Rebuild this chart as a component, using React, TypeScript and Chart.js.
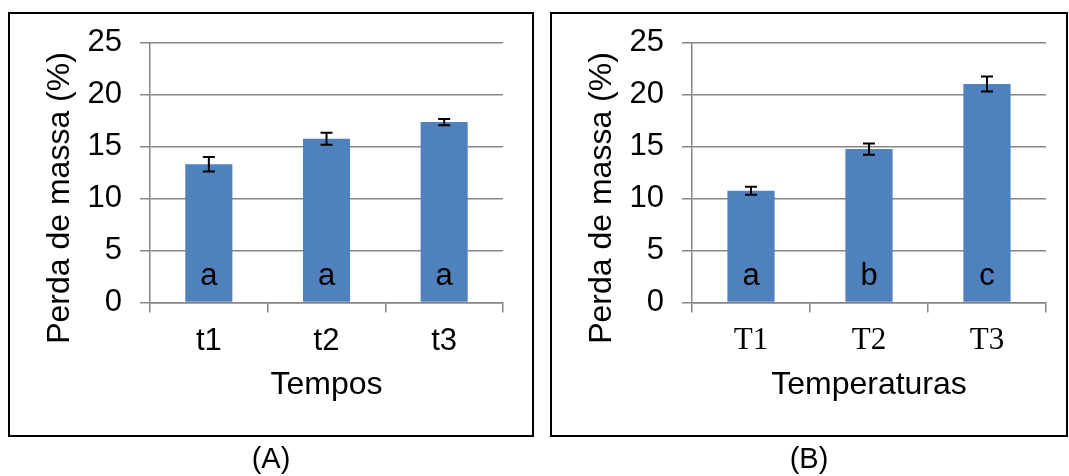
import React, { useEffect, useRef } from "react";
import { Chart, registerables } from "chart.js";

Chart.register(...registerables);

const SANS = '"Liberation Sans", Arial, Helvetica, sans-serif';
const SERIF = '"Liberation Serif", "Times New Roman", Times, serif';
const GRID = "#868686";
const BAR = "#4F81BD";

// Panel A — Tempos
const categoriesA = ["t1", "t2", "t3"];
const valuesA = [13.3, 15.75, 17.35];
const errorsA = [0.7, 0.58, 0.3];
const lettersA = ["a", "a", "a"];

// Panel B — Temperaturas
const categoriesB = ["T1", "T2", "T3"];
const valuesB = [10.75, 14.75, 21.0];
const errorsB = [0.38, 0.55, 0.72];
const lettersB = ["a", "b", "c"];

// Y axis ticks
const yMin = 0;
const yMax = 25;
const yStep = 5;

const yTitle = "Perda de massa (%)";

function makePlugin(values: number[], errors: number[], letters: string[], titleY: number) {
  return {
    id: "annot",
    afterDatasetsDraw(chart: any) {
      const ctx = chart.ctx;
      const y = chart.scales.y;
      const meta = chart.getDatasetMeta(0);
      meta.data.forEach((bar: any, i: number) => {
        const v = values[i];
        const e = errors[i];
        const top = y.getPixelForValue(v + e);
        const bot = y.getPixelForValue(v - e);
        ctx.save();
        ctx.strokeStyle = "#000";
        ctx.lineWidth = 2;
        ctx.beginPath();
        ctx.moveTo(bar.x, top);
        ctx.lineTo(bar.x, bot);
        ctx.moveTo(bar.x - 6, top);
        ctx.lineTo(bar.x + 6, top);
        ctx.moveTo(bar.x - 6, bot);
        ctx.lineTo(bar.x + 6, bot);
        ctx.stroke();
        ctx.fillStyle = "#000";
        ctx.font = `31px ${SANS}`;
        ctx.textAlign = "center";
        ctx.textBaseline = "alphabetic";
        ctx.fillText(letters[i], bar.x, y.getPixelForValue(0) - 18);
        ctx.restore();
      });
      ctx.save();
      ctx.translate(chart.chartArea.left - 89.5, titleY);
      ctx.rotate(-Math.PI / 2);
      ctx.fillStyle = "#000";
      ctx.font = `32px ${SANS}`;
      ctx.textAlign = "center";
      ctx.textBaseline = "middle";
      ctx.fillText(yTitle, 0, 0);
      ctx.restore();
    },
  };
}

type PanelProps = {
  left: number;
  width: number;
  categories: string[];
  values: number[];
  errors: number[];
  letters: string[];
  xTitle: string;
  xFont: string;
  axisLeft: number;
  rightPad: number;
};

function Panel(p: PanelProps) {
  const ref = useRef<HTMLCanvasElement | null>(null);
  useEffect(() => {
    if (!ref.current) return;
    const chart = new Chart(ref.current, {
      type: "bar",
      data: {
        labels: p.categories,
        datasets: [
          {
            data: p.values,
            backgroundColor: BAR,
            borderWidth: 0,
            barPercentage: 0.4,
            categoryPercentage: 1,
          },
        ],
      },
      options: {
        responsive: false,
        animation: false,
        devicePixelRatio: 1,
        layout: { padding: { left: 0, top: 42.5, right: p.rightPad, bottom: 63.5 } },
        plugins: { legend: { display: false }, tooltip: { enabled: false } },
        scales: {
          x: {
            offset: true,
            grid: {
              offset: true,
              drawOnChartArea: false,
              drawTicks: true,
              tickLength: 10,
              color: GRID,
              lineWidth: 1.5,
            },
            border: { color: GRID, width: 1.5 },
            ticks: {
              color: "#000",
              font: { family: p.xFont, size: 31 },
              padding: 10,
              maxRotation: 0,
              autoSkip: false,
            },
            title: {
              display: true,
              text: p.xTitle,
              color: "#000",
              font: { family: SANS, size: 32, lineHeight: 1.2 },
              padding: { top: 0, bottom: 8 },
            },
            afterFit: (s: any) => {
              s.height = 110;
            },
          },
          y: {
            min: yMin,
            max: yMax,
            ticks: {
              stepSize: yStep,
              color: "#000",
              font: { family: SANS, size: 31 },
              padding: 18,
            },
            grid: { color: GRID, lineWidth: 1.5, tickLength: 10 },
            border: { color: GRID, width: 1.5 },
            afterFit: (s: any) => {
              s.width = p.axisLeft;
            },
          },
        },
      },
      plugins: [makePlugin(p.values, p.errors, p.letters, 198)],
    } as any);
    return () => chart.destroy();
  }, []);
  return (
    <canvas
      ref={ref}
      width={p.width}
      height={476}
      style={{ position: "absolute", left: p.left, top: 0, width: p.width, height: 476 }}
    />
  );
}

export default function App() {
  const frame = (left: number, width: number): React.CSSProperties => ({
    position: "absolute",
    left,
    top: 12,
    width,
    height: 425,
    border: "2px solid #000",
    boxSizing: "border-box",
  });
  const cap = (left: number, width: number): React.CSSProperties => ({
    position: "absolute",
    left,
    width,
    top: 441,
    height: 34,
    lineHeight: "34px",
    textAlign: "center",
    fontFamily: SANS,
    fontSize: 29,
    color: "#000",
  });
  return (
    <div style={{ position: "absolute", left: 0, top: 0, width: 1069, height: 476, background: "#fff", overflow: "hidden" }}>
      <div style={frame(8, 526)} />
      <div style={frame(550, 518)} />
      <Panel
        left={0}
        width={540}
        categories={categoriesA}
        values={valuesA}
        errors={errorsA}
        letters={lettersA}
        xTitle="Tempos"
        xFont={SANS}
        axisLeft={150}
        rightPad={37}
      />
      <Panel
        left={540}
        width={529}
        categories={categoriesB}
        values={valuesB}
        errors={errorsB}
        letters={lettersB}
        xTitle="Temperaturas"
        xFont={SERIF}
        axisLeft={152}
        rightPad={23}
      />
      <div style={cap(8, 526)}>(A)</div>
      <div style={cap(550, 518)}>(B)</div>
    </div>
  );
}
